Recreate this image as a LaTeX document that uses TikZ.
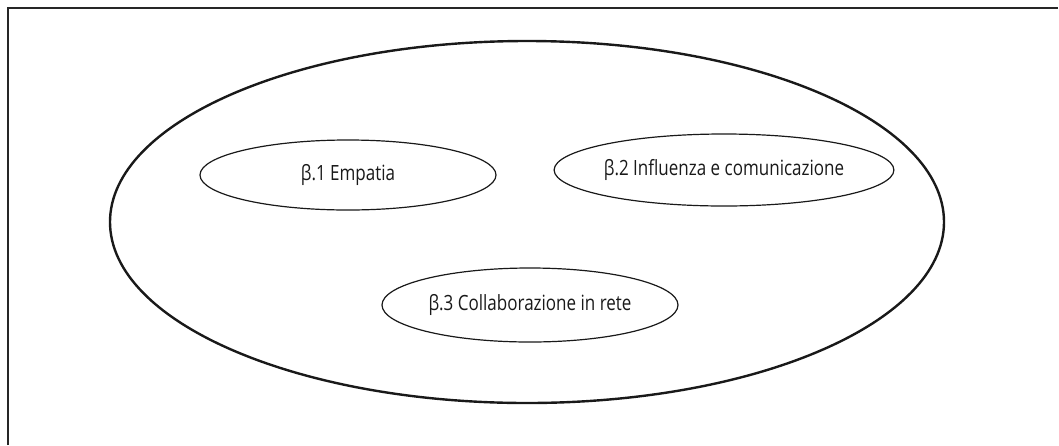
\documentclass[tikz,border=0pt]{standalone}
\usepackage{fontspec}
\setmainfont[FakeStretch=0.81]{Open Sans}
\usetikzlibrary{shapes.geometric}
\tikzset{
  frameline/.style={line width=2pt, draw=black!85},
  outerell/.style={ellipse, draw=black!90, line width=2.4pt, inner sep=0pt},
  innerell/.style={ellipse, draw=black!90, line width=1.2pt, inner sep=0pt, font=\fontsize{21}{25}\selectfont, text=black!90}
}
\begin{document}
\begin{tikzpicture}[x=1pt,y=-1pt]
\useasboundingbox (0,0) rectangle (1059,445);
\coordinate (ftl) at (8,8);
\coordinate (ftr) at (1058,8);
\coordinate (fbl) at (8,445);
\draw[frameline] (fbl) -- (ftl) -- (ftr);
\node[outerell, minimum width=834pt, minimum height=362pt] (outer) at (527,222) {};
\node[innerell, minimum width=296pt, minimum height=70pt] (e1) at (348,175) {β.1 Empatia};
\node[innerell, minimum width=311pt, minimum height=72pt] (e2) at (724,170) {β.2 Influenza e comunicazione};
\node[innerell, minimum width=296pt, minimum height=74pt] (e3) at (530,305) {β.3 Collaborazione in rete};
\end{tikzpicture}
\end{document}
